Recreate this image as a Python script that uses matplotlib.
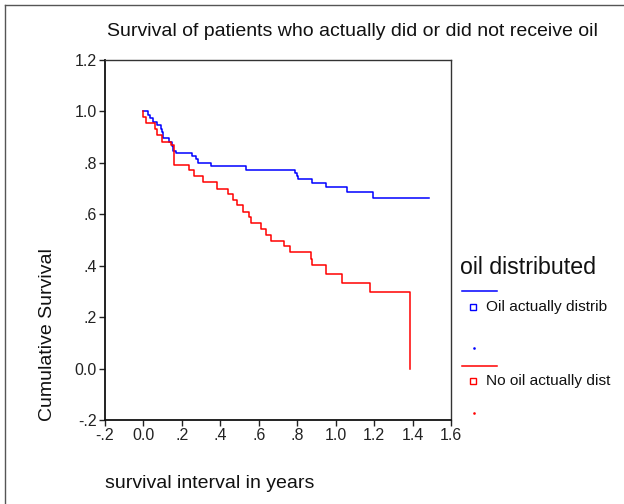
import matplotlib
matplotlib.use("Agg")
import matplotlib.pyplot as plt
from matplotlib.lines import Line2D

plt.rcParams['font.family'] = ['Liberation Sans', 'DejaVu Sans']

# Kaplan-Meier step data
blue_t = [0.0, 0.024, 0.033, 0.050, 0.071, 0.091, 0.097, 0.102, 0.131, 0.148, 0.153,
          0.171, 0.252, 0.272, 0.286, 0.351, 0.536, 0.789, 0.797, 0.803, 0.875,
          0.949, 1.061, 1.192, 1.488]
blue_s = [1.0, 0.986, 0.975, 0.958, 0.949, 0.932, 0.919, 0.898, 0.883, 0.866, 0.848,
          0.839, 0.827, 0.814, 0.798, 0.786, 0.773, 0.762, 0.750, 0.736, 0.721,
          0.705, 0.687, 0.665, 0.665]

red_t = [0.0, 0.0, 0.013, 0.061, 0.070, 0.095, 0.144, 0.157, 0.239, 0.265, 0.312,
         0.381, 0.441, 0.467, 0.487, 0.518, 0.549, 0.562, 0.613, 0.639, 0.661,
         0.729, 0.763, 0.872, 0.875, 0.949, 1.032, 1.177, 1.385]
red_s = [1.0, 0.978, 0.954, 0.932, 0.910, 0.881, 0.870, 0.792, 0.773, 0.747, 0.726,
         0.700, 0.680, 0.656, 0.636, 0.610, 0.589, 0.566, 0.544, 0.518, 0.498,
         0.478, 0.453, 0.426, 0.401, 0.368, 0.333, 0.296, 0.0]

x_ticks = [-0.2, 0.0, 0.2, 0.4, 0.6, 0.8, 1.0, 1.2, 1.4, 1.6]
x_tick_labels = ["-.2", "0.0", ".2", ".4", ".6", ".8", "1.0", "1.2", "1.4", "1.6"]
y_ticks = [-0.2, 0.0, 0.2, 0.4, 0.6, 0.8, 1.0, 1.2]
y_tick_labels = ["-.2", "0.0", ".2", ".4", ".6", ".8", "1.0", "1.2"]

series_names = ["Oil actually distrib", "No oil actually dist"]
series_colors = ["#0000ff", "#ff0000"]

W, H = 624, 504
fig = plt.figure(figsize=(W / 100, H / 100), dpi=100)

# axes box: x from 105 to 451 px, y from 60 to 420 px
ax = fig.add_axes([105 / W, 1 - 420 / H, (451 - 105) / W, (420 - 60) / H])
ax.plot(blue_t, blue_s, drawstyle='steps-post', color=series_colors[0], lw=1.1)
# red: last point drops vertically
ax.plot(red_t[:-1] + [red_t[-1], red_t[-1]], red_s[:-1] + [red_s[-2], red_s[-1]],
        drawstyle='steps-post', color=series_colors[1], lw=1.1)

ax.set_xlim(-0.2, 1.6)
ax.set_ylim(-0.2, 1.2)
ax.set_xticks(x_ticks)
ax.set_xticklabels(x_tick_labels)
ax.set_yticks(y_ticks)
ax.set_yticklabels(y_tick_labels)
ax.tick_params(axis='both', labelsize=11.5, length=4, width=1, direction='out',
               colors='#222222', pad=2)
for s in ['left', 'bottom']:
    ax.spines[s].set_linewidth(1.3)
    ax.spines[s].set_color('#111111')
for s in ['top', 'right']:
    ax.spines[s].set_linewidth(1.0)
    ax.spines[s].set_color('#333333')

fig.text(352 / W, 1 - 31 / H, "Survival of patients who actually did or did not receive oil",
         ha='center', va='center', fontsize=14, color='#111111')
fig.text(105 / W, 1 - 483 / H, "survival interval in years",
         ha='left', va='center', fontsize=14, color='#111111')
fig.text(48 / W, 1 - 335 / H, "Cumulative Survival", rotation=90,
         ha='center', va='center', fontsize=14, color='#111111')

# legend (manual, figure coordinates)
fig.text(460 / W, 1 - 268 / H, "oil distributed", ha='left', va='center',
         fontsize=16.7, color='#111111')
leg_rows = [(291, 307, 348), (366, 381, 413)]
for (ly, my, dy), name, col in zip(leg_rows, series_names, series_colors):
    fig.add_artist(Line2D([462 / W, 497 / W], [1 - ly / H, 1 - ly / H],
                          color=col, lw=1.1, transform=fig.transFigure))
    fig.add_artist(Line2D([473 / W], [1 - my / H], marker='s', markersize=4,
                          markerfacecolor='white', markeredgecolor=col,
                          markeredgewidth=1.0, linestyle='none',
                          transform=fig.transFigure))
    fig.text(486 / W, 1 - my / H, name, ha='left', va='center', fontsize=11.1,
             color='#111111')
    fig.add_artist(Line2D([474 / W], [1 - dy / H], marker='s', markersize=0.8,
                          markerfacecolor=col, markeredgecolor=col,
                          linestyle='none', transform=fig.transFigure))

# outer frame (left and top lines)
fig.add_artist(Line2D([5 / W, 5 / W], [0, 1 - 5 / H], color='#555555', lw=1,
                      transform=fig.transFigure))
fig.add_artist(Line2D([5 / W, 1], [1 - 5 / H, 1 - 5 / H], color='#555555', lw=1,
                      transform=fig.transFigure))

fig.savefig("out.png", dpi=100)
